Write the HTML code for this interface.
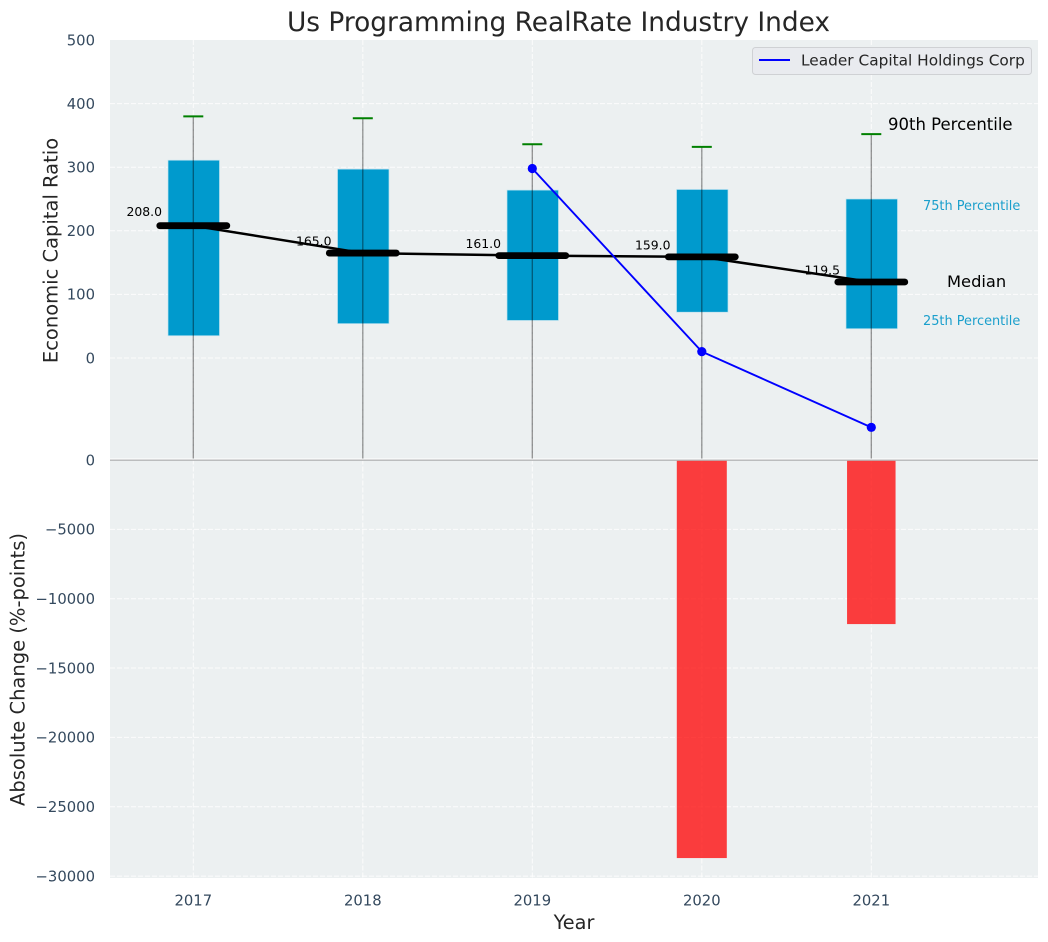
<!DOCTYPE html>
<html>
<head>
<meta charset="utf-8">
<title>Us Programming RealRate Industry Index</title>
<style>
html,body{margin:0;padding:0;background:#fff;width:1048px;height:942px;overflow:hidden}
svg{display:block}
text{font-family:"DejaVu Sans","Liberation Sans",sans-serif}
</style>
</head>
<body>
<svg id="chart" xmlns="http://www.w3.org/2000/svg" width="1048" height="942" viewBox="0 0 1048 942"></svg>
<script>
const years = [2017, 2018, 2019, 2020, 2021];
const p90 = [380, 377, 336, 332, 352];
const p75 = [311, 297, 264, 265, 250];
const p25 = [35, 54, 59, 72, 46];
const medians = [208, 165, 161, 159, 119.5];
const medianLabels = ['208.0', '165.0', '161.0', '159.0', '119.5'];
const leader = [null, null, 298, 10, -109];
const changes = [null, null, null, -28700, -11830];
const topTicks = [0, 100, 200, 300, 400, 500];
const bottomTicks = [0, -5000, -10000, -15000, -20000, -25000, -30000];
const bottomGridTicks = [-5000, -10000, -15000, -20000, -25000, -30000];

const NS = 'http://www.w3.org/2000/svg';
const svg = document.getElementById('chart');
const L = 110, R = 1038, T1 = 40, B1 = 458.5, T2 = 459.5, B2 = 878;

function xScale(v) { return 193.3 + (v - 2017) * 169.5; }
function yTop(v) { return 358 - v * 0.636; }
function yBottom(v) { return 460 - v * 0.01387; }

function add(tag, attrs, text, parent) {
  const el = document.createElementNS(NS, tag);
  for (const k in attrs) el.setAttribute(k, attrs[k]);
  if (text !== undefined) el.textContent = text;
  (parent || svg).appendChild(el);
  return el;
}

const defs = add('defs', {});
const clip = add('clipPath', { id: 'top-clip' }, undefined, defs);
add('rect', { x: L, y: T1, width: R - L, height: B1 - T1 }, undefined, clip);

const tickColor = '#34495e';
const textColor = '#262626';
const gridAttrs = { stroke: '#ffffff', 'stroke-width': 1, 'stroke-dasharray': '5 2', opacity: 0.85 };

/* Backgrounds */
let el = add('rect', { x: L, y: T1, width: R - L, height: B1 - T1, fill: '#ecf0f1' });


el = add('rect', { x: L, y: T2, width: R - L, height: B2 - T2, fill: '#ecf0f1' });



/* Grid */
const gridGroup = add('g', {});


years.forEach(function (yr) {
  const x = xScale(yr);
  add('line', Object.assign({ x1: x, x2: x, y1: T1, y2: B1 }, gridAttrs), undefined, gridGroup);
  add('line', Object.assign({ x1: x, x2: x, y1: T2, y2: B2 }, gridAttrs), undefined, gridGroup);
});
topTicks.forEach(function (t) {
  const y = yTop(t);
  if (y > T1 + 1) add('line', Object.assign({ x1: L, x2: R, y1: y, y2: y }, gridAttrs), undefined, gridGroup);
});
bottomGridTicks.forEach(function (t) {
  const y = yBottom(t);
  add('line', Object.assign({ x1: L, x2: R, y1: y, y2: y }, gridAttrs), undefined, gridGroup);
});

/* Zero line of lower panel */
el = add('line', { x1: L, x2: R, y1: 460.2, y2: 460.2, stroke: '#b4b6b7', 'stroke-width': 1.3 });



/* Boxes, whiskers, caps */
years.forEach(function (yr, i) {
  const x = xScale(yr);
  const box = add('rect', {
    x: x - 25.5 + 0.2, y: yTop(p75[i]), width: 51.5, height: yTop(p25[i]) - yTop(p75[i]),
    fill: '#009acd', stroke: '#bfe3f0', 'stroke-width': 0.7
  });
  
  
  const whisker = add('line', {
    x1: x, x2: x, y1: yTop(p90[i]), y2: B1, stroke: '#000000', 'stroke-opacity': 0.42,
    'stroke-width': 1.3, 'clip-path': 'url(#top-clip)'
  });
  
  
  const cap = add('line', {
    x1: x - 10, x2: x + 10, y1: yTop(p90[i]), y2: yTop(p90[i]), stroke: '#008000', 'stroke-width': 2
  });
  
  
});

/* Median connecting line */
el = add('polyline', {
  points: years.map(function (yr, i) { return xScale(yr) + ',' + yTop(medians[i]); }).join(' '),
  fill: 'none', stroke: '#000000', 'stroke-width': 2.5
});



/* Median bars and labels */
years.forEach(function (yr, i) {
  const x = xScale(yr), y = yTop(medians[i]);
  const bar = add('line', {
    x1: x - 33.5, x2: x + 33.5, y1: y, y2: y, stroke: '#000000', 'stroke-width': 6.8, 'stroke-linecap': 'round'
  });
  
  
  const lab = add('text', {
    x: x - 66.8, y: y - (i === 0 ? 9.5 : 7.6), 'font-size': 12.4, fill: '#000000'
  }, medianLabels[i]);
  
  
});

/* Leader series */
const leaderPts = [];
years.forEach(function (yr, i) {
  if (leader[i] !== null) leaderPts.push([xScale(yr), yTop(leader[i]), yr]);
});
el = add('polyline', {
  points: leaderPts.map(function (p) { return p[0] + ',' + p[1]; }).join(' '),
  fill: 'none', stroke: '#0000ff', 'stroke-width': 1.9
});


leaderPts.forEach(function (p) {
  const dot = add('circle', { cx: p[0], cy: p[1], r: 4.6, fill: '#0000ff' });
  
  
});

/* Change bars */
years.forEach(function (yr, i) {
  if (changes[i] === null) return;
  const x = xScale(yr);
  const w = yr === 2020 ? 50 : 48.5;
  const bar = add('rect', {
    x: x - w / 2, y: 460.8, width: w, height: yBottom(changes[i]) - 460.8,
    fill: '#ff0000', 'fill-opacity': 0.75
  });
  
  
});

/* Tick labels */
topTicks.forEach(function (t) {
  const lab = add('text', { x: 95, y: yTop(t) + 5.3, 'font-size': 14.8, 'text-anchor': 'end', fill: tickColor }, String(t));
  
  
});
bottomTicks.forEach(function (t) {
  const txt = t < 0 ? '\u2212' + Math.abs(t) : String(t);
  const lab = add('text', { x: 95, y: yBottom(t) + 5.3, 'font-size': 14.8, 'text-anchor': 'end', fill: tickColor }, txt);
  
  
});
years.forEach(function (yr) {
  const lab = add('text', { x: xScale(yr), y: 905.3, 'font-size': 14.8, 'text-anchor': 'middle', fill: tickColor }, String(yr));
  
  
});

/* Titles */
el = add('text', { x: 558.5, y: 31, 'font-size': 26.4, 'text-anchor': 'middle', fill: textColor }, 'Us Programming RealRate Industry Index');


el = add('text', { x: 574, y: 929, 'font-size': 19.3, 'text-anchor': 'middle', fill: textColor }, 'Year');


el = add('text', { transform: 'translate(57.5 250.5) rotate(-90)', 'font-size': 19.5, 'text-anchor': 'middle', fill: textColor }, 'Economic Capital Ratio');


el = add('text', { transform: 'translate(24.5 669.5) rotate(-90)', 'font-size': 19.5, 'text-anchor': 'middle', fill: textColor }, 'Absolute Change (%-points)');



/* Annotations */
el = add('text', { x: 888, y: 130, 'font-size': 16.5, fill: '#000000' }, '90th Percentile');


el = add('text', { x: 923, y: 210, 'font-size': 12.9, fill: '#1a9fcc' }, '75th Percentile');


el = add('text', { x: 947, y: 287, 'font-size': 16.3, fill: '#000000' }, 'Median');


el = add('text', { x: 923, y: 325, 'font-size': 12.9, fill: '#1a9fcc' }, '25th Percentile');



/* Legend */
const legend = add('g', {});


add('rect', { x: 752.5, y: 47.5, width: 279, height: 27, rx: 3, ry: 3, fill: '#e9ebef', stroke: '#cfd1d4', 'stroke-width': 1 }, undefined, legend);
el = add('line', { x1: 759, x2: 790, y1: 60, y2: 60, stroke: '#0000ff', 'stroke-width': 1.9 }, undefined, legend);


el = add('text', { x: 801, y: 65.7, 'font-size': 15.35, fill: textColor }, 'Leader Capital Holdings Corp', legend);


</script>
</body>
</html>
